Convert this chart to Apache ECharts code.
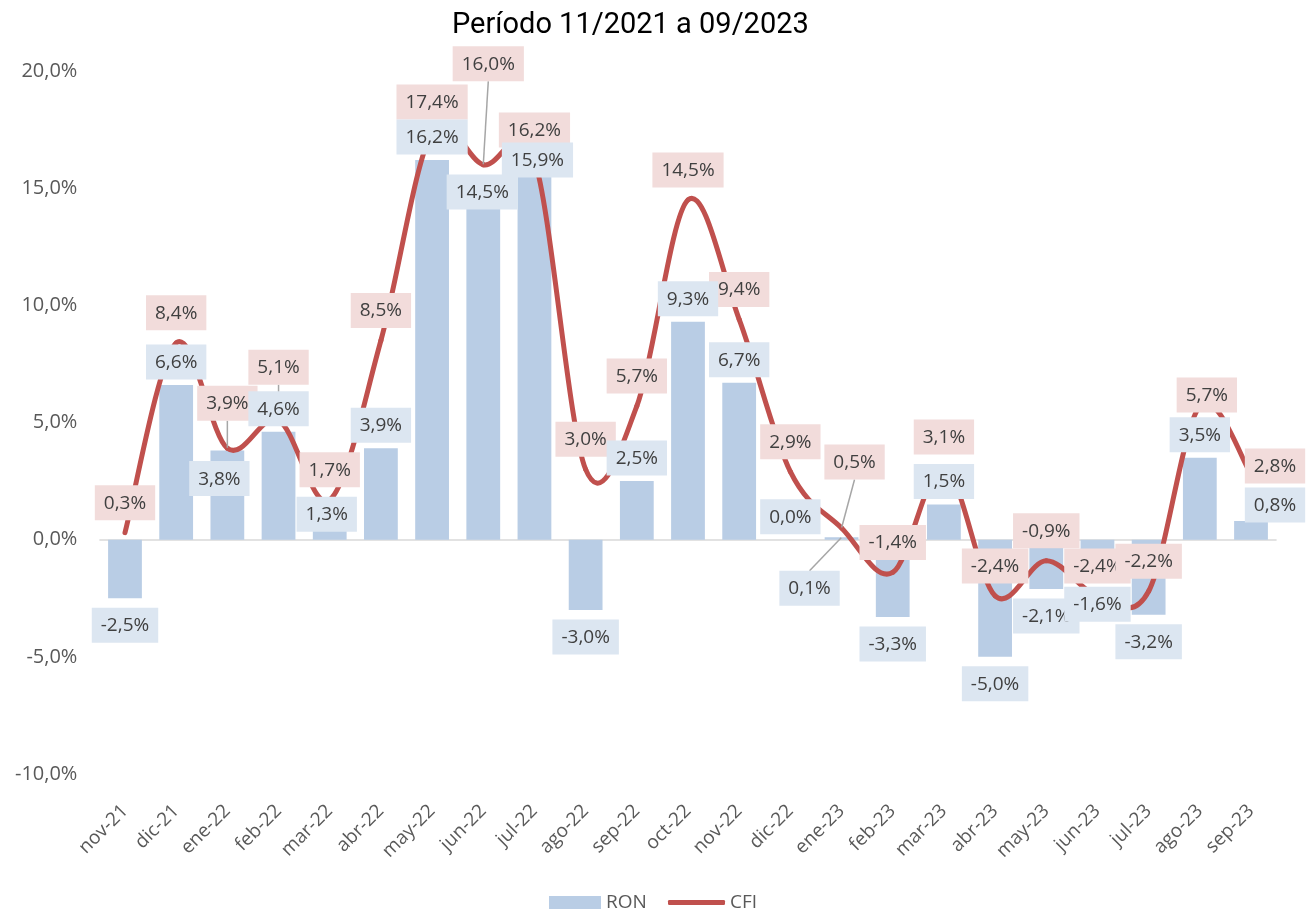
<!DOCTYPE html>
<html>
<head>
<meta charset="utf-8">
<script src="https://cdn.jsdelivr.net/npm/echarts@6/dist/echarts.min.js"></script>
<style>
html,body{margin:0;padding:0;background:#fff;}
#chart{width:1309px;height:911px;}
</style>
</head>
<body>
<div id="chart"></div>
<script>
// ---- Data ----
const categories = ['nov-21','dic-21','ene-22','feb-22','mar-22','abr-22','may-22','jun-22','jul-22','ago-22','sep-22','oct-22','nov-22','dic-22','ene-23','feb-23','mar-23','abr-23','may-23','jun-23','jul-23','ago-23','sep-23'];
const ronValues = [-2.5, 6.6, 3.8, 4.6, 1.3, 3.9, 16.2, 14.5, 15.9, -3.0, 2.5, 9.3, 6.7, 0.0, 0.1, -3.3, 1.5, -5.0, -2.1, -1.6, -3.2, 3.5, 0.8];
const cfiValues = [0.3, 8.4, 3.9, 5.1, 1.7, 8.5, 17.4, 16.0, 16.2, 3.0, 5.7, 14.5, 9.4, 2.9, 0.5, -1.4, 3.1, -2.4, -0.9, -2.4, -2.2, 5.7, 2.8];
const yMin = -10, yMax = 20, yStep = 5;
const titleText = 'Período 11/2021 a 09/2023';
const seriesNames = ['RON', 'CFI'];

// ---- Label layout tweaks (callout offsets [dx, dy, leaderLine]) ----
const ronLabelShift = {2: [-8, 51], 4: [-3, 28], 7: [-1, 15], 8: [3, 16], 14: [-32, 74, true], 22: [24, 7]};
const cfiLabelShift = {2: [0, -15, true], 3: [0, -23, true], 7: [5, -71, true], 14: [13, -36, true], 21: [7, 19], 22: [24, 22]};

const fmt = v => v.toFixed(1).replace('.', ',') + '%';
const labelFont = 'Open Sans';
const RED = '#c0504d', BLUE = '#b9cde5';
const leader = {show: true, lineStyle: {color: '#a6a6a6', width: 1.5}};

const baseLabel = {
  show: true,
  formatter: p => fmt(p.value),
  color: '#404040',
  fontFamily: labelFont,
  fontSize: 19,
  lineHeight: 20,
  padding: [8, 9, 7, 9]
};

const ronLabelData = ronValues.map((v, i) => {
  const item = {value: v, label: {position: v < 0 ? 'bottom' : 'top', distance: v < 0 ? 9 : 5}};
  const s = ronLabelShift[i];
  if (s && s[2]) item.labelLine = leader;
  return item;
});
const cfiLabelData = cfiValues.map((v, i) => {
  const item = {value: v};
  const s = cfiLabelShift[i];
  if (s && s[2]) item.labelLine = leader;
  return item;
});

const shiftFn = table => params => {
  const s = table[params.dataIndex];
  return s ? {dx: s[0], dy: s[1]} : {};
};

// Smoothed (Catmull-Rom style) CFI line: each item draws its segment to the next point
const n = cfiValues.length;
const clampIdx = k => Math.max(0, Math.min(n - 1, k));
function renderCfiSegment(params, api) {
  const i = params.dataIndex;
  if (i >= n - 1) return null;
  const P = k => { const j = clampIdx(k); return api.coord([j, cfiValues[j]]); };
  const p0 = P(i - 1), p1 = P(i), p2 = P(i + 1), p3 = P(i + 2);
  const t = 1 / 6;
  return {
    type: 'bezierCurve',
    shape: {
      x1: p1[0], y1: p1[1],
      cpx1: p1[0] + (p2[0] - p0[0]) * t, cpy1: p1[1] + (p2[1] - p0[1]) * t,
      cpx2: p2[0] - (p3[0] - p1[0]) * t, cpy2: p2[1] - (p3[1] - p1[1]) * t,
      x2: p2[0], y2: p2[1]
    },
    style: {stroke: RED, lineWidth: 5, fill: null, lineCap: 'round'}
  };
}

const splitColors = [];
for (let t = yMin; t <= yMax + 1e-9; t += yStep) splitColors.push(Math.abs(t) < 1e-9 ? '#d9d9d9' : 'rgba(0,0,0,0)');

const chart = echarts.init(document.getElementById('chart'), null, {renderer: 'canvas'});
chart.setOption({
  animation: false,
  backgroundColor: '#ffffff',
  title: {
    text: titleText,
    left: 447,
    top: 6,
    textStyle: {fontFamily: 'Roboto', fontSize: 29, fontWeight: 'normal', color: '#000000'}
  },
  legend: [
    {
      data: [{name: seriesNames[0], icon: 'rect'}],
      left: 549, top: 893, padding: 0,
      itemWidth: 52, itemHeight: 13, itemGap: 5,
      textStyle: {fontFamily: labelFont, fontSize: 19, color: '#595959'}
    },
    {
      data: [{name: seriesNames[1], icon: 'roundRect'}],
      left: 668, top: 893, padding: 0,
      itemWidth: 57, itemHeight: 5, itemGap: 5,
      textStyle: {fontFamily: labelFont, fontSize: 19, color: '#595959'}
    }
  ],
  grid: {left: 99.4, right: 32.4, top: 71, bottom: 137, containLabel: false},
  xAxis: {
    type: 'category',
    data: categories,
    axisLine: {show: false},
    axisTick: {show: false},
    axisLabel: {rotate: 45, margin: 34, color: '#595959', fontFamily: labelFont, fontSize: 19, interval: 0},
    splitLine: {show: false}
  },
  yAxis: {
    type: 'value',
    min: yMin,
    max: yMax,
    interval: yStep,
    axisLine: {show: false},
    axisTick: {show: false},
    axisLabel: {formatter: v => fmt(v), color: '#595959', fontFamily: labelFont, fontSize: 20, margin: 22},
    splitLine: {show: true, lineStyle: {color: splitColors, width: 1.5}}
  },
  series: [
    {
      name: seriesNames[0],
      type: 'bar',
      data: ronValues,
      barWidth: '66%',
      itemStyle: {color: BLUE},
      emphasis: {disabled: true},
      z: 2
    },
    {
      name: seriesNames[1],
      type: 'custom',
      data: cfiValues.map((v, i) => [i, v]),
      encode: {x: 0, y: 1},
      renderItem: renderCfiSegment,
      itemStyle: {color: RED},
      z: 3,
      silent: true
    },
    {
      name: 'CFI-etiquetas',
      type: 'scatter',
      data: cfiLabelData,
      symbolSize: 1,
      itemStyle: {color: 'rgba(0,0,0,0)', opacity: 1},
      label: Object.assign({}, baseLabel, {position: 'top', distance: 12, backgroundColor: '#f2dcdb'}),
      labelLayout: shiftFn(cfiLabelShift),
      emphasis: {disabled: true},
      silent: true,
      z: 10
    },
    {
      name: 'RON-etiquetas',
      type: 'scatter',
      data: ronLabelData,
      symbolSize: 1,
      itemStyle: {color: 'rgba(0,0,0,0)', opacity: 1},
      label: Object.assign({}, baseLabel, {backgroundColor: '#dce6f1'}),
      labelLayout: shiftFn(ronLabelShift),
      emphasis: {disabled: true},
      silent: true,
      z: 11
    }
  ]
});
</script>
</body>
</html>
